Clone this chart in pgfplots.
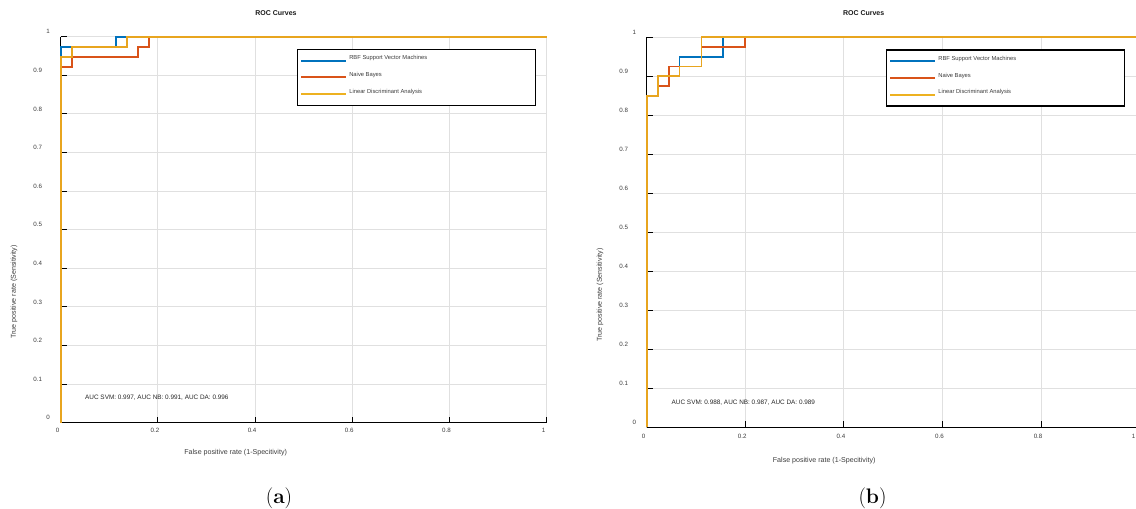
\documentclass[border=0pt]{standalone}
\usepackage{fontspec}
\usepackage{pgfplots}
\pgfplotsset{compat=1.18}
\newfontfamily\plotfont{Liberation Sans}
\definecolor{svm}{RGB}{0,114,189}
\definecolor{nb}{RGB}{217,83,25}
\definecolor{da}{RGB}{237,177,32}
\definecolor{dam}{RGB}{232,165,31}
\definecolor{gridc}{RGB}{224,224,224}
\definecolor{tickc}{RGB}{60,60,60}

\pgfplotsset{rocstyle/.style={
  scale only axis, xmin=0, xmax=1, ymin=0, ymax=1,
  clip=false,
  axis lines*=left,
  axis line style={black, line width=1pt},
  xtick={0,0.2,0.4,0.6,0.8,1},
  xticklabels={0,0.2,0.4,0.6,0.8,1},
  ytick={0,0.1,0.2,0.3,0.4,0.5,0.6,0.7,0.8,0.9,1},
  yticklabels={\rlap{\hspace{5pt}0},0.1,0.2,0.3,0.4,0.5,0.6,0.7,0.8,0.9,\rlap{\hspace{5pt}1}},
  tick align=inside, major tick length=6pt,
  tick style={black, line width=1pt},
  grid=major, major grid style={gridc, line width=1pt},
  ticklabel style={font=\plotfont\fontsize{6.2}{7}\selectfont, text=tickc, inner sep=0pt},
  xticklabel style={anchor=center, yshift=-8pt, xshift=-3pt},
  yticklabel style={anchor=east, xshift=-18.5pt, yshift=5pt},
  title style={anchor=center, font=\plotfont\bfseries\fontsize{7}{8}\selectfont, text=black!90},
  xlabel style={anchor=center, font=\plotfont\fontsize{7.1}{8}\selectfont, text=tickc},
  ylabel style={anchor=center, rotate=0, font=\plotfont\fontsize{7.1}{8}\selectfont, text=tickc},
  legend cell align=left,
  legend image code/.code={\draw[#1] (0pt,-2pt) -- (45pt,-2pt); \path (0pt,-8.5pt);},
  legend style={anchor=north west, draw=black, line width=1.2pt, fill=white,
    font=\plotfont\fontsize{5.8}{7}\selectfont, text=tickc,
    inner xsep=3pt, inner ysep=4pt, row sep=2.5pt},
  title={ROC Curves},
  xlabel={False positive rate (1-Specitivity)},
  ylabel={True positive rate (Sensitivity)},
}}

\begin{document}
\begin{tikzpicture}
\useasboundingbox (0pt,0pt) rectangle (1136pt,-509pt);

% ---------------- Panel (a) ----------------
\begin{axis}[rocstyle,
  at={(60.7pt,-422.7pt)}, anchor=south west,
  width=486pt, height=386pt,
  title style={at={(axis description cs:0.443,1.045)}},
  xlabel style={at={(axis description cs:0.36,-0.0785)}},
  ylabel style={at={(axis description cs:-0.0961,0.339)}},
  legend style={at={(axis description cs:0.4856,0.968)}},
]
\addplot[svm, line width=1.8pt, forget plot] coordinates {
  (0,0) (0,0.97368) (0.11364,0.97368) (0.11364,1) (1,1)};
\addplot[nb, line width=1.8pt, forget plot] coordinates {
  (0,0) (0,0.92105) (0.02273,0.92105) (0.02273,0.94737) (0.15909,0.94737)
  (0.15909,0.97368) (0.18182,0.97368) (0.18182,1) (1,1)};
\addplot[dam, line width=1.8pt, forget plot] coordinates {
  (0,0) (0,0.94737) (0.02273,0.94737) (0.02273,0.97368) (0.13636,0.97368)
  (0.13636,1) (1,1)};
\addlegendimage{svm, line width=2pt}
\addlegendentry{\makebox[181pt][l]{RBF Support Vector Machines}}
\addlegendimage{nb, line width=2pt}
\addlegendentry{\makebox[181pt][l]{Naive Bayes}}
\addlegendimage{da, line width=2pt}
\addlegendentry{\makebox[181pt][l]{Linear Discriminant Analysis}}
\node[anchor=west, inner sep=0pt, font=\plotfont\fontsize{6.4}{7}\selectfont, text=black!85]
  at (axis cs:0.05,0.0658) {AUC SVM: 0.997, AUC NB: 0.991, AUC DA: 0.996};
\end{axis}

% ---------------- Panel (b) ----------------
\begin{axis}[rocstyle,
  at={(646.7pt,-427.3pt)}, anchor=south west,
  width=493pt, height=390pt,
  xticklabels={0,0.2,0.4,0.6,0.8,\llap{1\hspace{1.5pt}}},
  xticklabel style={yshift=-0.7pt},
  title style={at={(axis description cs:0.44,1.046)}},
  xlabel style={at={(axis description cs:0.36,-0.0846)}},
  ylabel style={at={(axis description cs:-0.0947,0.339)}},
  legend style={at={(axis description cs:0.4848,0.969)}},
]
\addplot[svm, line width=1.8pt, forget plot] coordinates {
  (0,0) (0,0.85) (0.02222,0.85) (0.02222,0.9) (0.04444,0.9) (0.04444,0.925)
  (0.06667,0.925) (0.06667,0.95) (0.15556,0.95) (0.15556,1) (1,1)};
\addplot[nb, line width=1.8pt, forget plot] coordinates {
  (0,0) (0,0.85) (0.02222,0.85) (0.02222,0.875) (0.04444,0.875) (0.04444,0.925)
  (0.11111,0.925) (0.11111,0.975) (0.2,0.975) (0.2,1) (1,1)};
\addplot[dam, line width=1.8pt, forget plot] coordinates {
  (0,0) (0,0.85) (0.02222,0.85) (0.02222,0.9) (0.06667,0.9) (0.06667,0.925)
  (0.11111,0.925) (0.11111,1) (1,1)};
\addlegendimage{svm, line width=2pt}
\addlegendentry{\makebox[181pt][l]{RBF Support Vector Machines}}
\addlegendimage{nb, line width=2pt}
\addlegendentry{\makebox[181pt][l]{Naive Bayes}}
\addlegendimage{da, line width=2pt}
\addlegendentry{\makebox[181pt][l]{Linear Discriminant Analysis}}
\node[anchor=west, inner sep=0pt, font=\plotfont\fontsize{6.4}{7}\selectfont, text=black!85]
  at (axis cs:0.0503,0.063) {AUC SVM: 0.988, AUC NB: 0.987, AUC DA: 0.989};
\end{axis}

% ---------------- Captions ----------------
\node[anchor=base, inner sep=0pt, font=\fontsize{21}{24}\selectfont] at (279pt,-503pt) {(\textbf{a})};
\node[anchor=base, inner sep=0pt, font=\fontsize{21}{24}\selectfont] at (872.5pt,-503pt) {(\textbf{b})};
\end{tikzpicture}
\end{document}
